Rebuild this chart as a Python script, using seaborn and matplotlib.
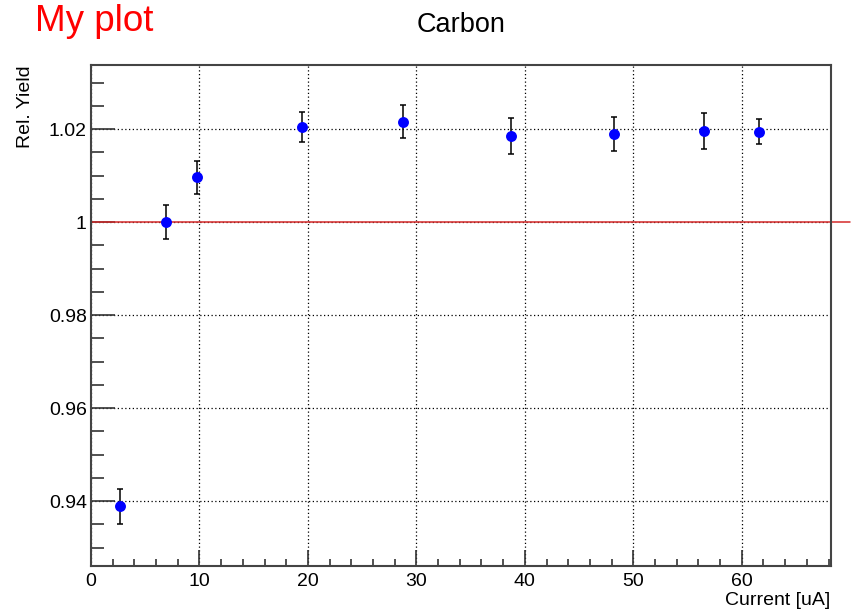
import numpy as np
import pandas as pd
import matplotlib
matplotlib.use("Agg")
import matplotlib.pyplot as plt
import seaborn as sns
from matplotlib.ticker import MultipleLocator

# beam current [uA], relative yield and its error
current = [2.7, 6.9, 9.8, 19.5, 28.8, 38.7, 48.2, 56.5, 61.6]
rel_yield = [0.9389, 1.0000, 1.0096, 1.0205, 1.0216, 1.0185, 1.0190, 1.0196, 1.0194]
yield_err = [0.0038, 0.0037, 0.0036, 0.0032, 0.0036, 0.0038, 0.0037, 0.0039, 0.0027]

ref_line_x = [0, 70]
ref_line_y = [1, 1]

df = pd.DataFrame({"current": current, "rel_yield": rel_yield, "err": yield_err})

sns.set_style("white")
plt.rcParams['font.family'] = ['Liberation Sans', 'DejaVu Sans']
plt.rcParams['text.color'] = 'black'
plt.rcParams['axes.labelcolor'] = 'black'

fig = plt.figure(figsize=(8.52, 6.13), dpi=100)
ax = fig.add_axes([0.1068, 0.0772, 0.975 - 0.1068, 0.894 - 0.0772])

# error bars first, then markers on top
ax.errorbar(df.current, df.rel_yield, yerr=df.err, fmt="none", ecolor="black",
            elinewidth=1.1, capsize=2.4, capthick=1.1, zorder=3)
sns.scatterplot(x="current", y="rel_yield", data=df, color="#0000ff", s=62,
                edgecolor="#0000ff", linewidth=0, ax=ax, zorder=4)

# reference line at 1 (runs past the frame like the TLine in ROOT)
ax.plot(ref_line_x, ref_line_y, color="#d42a2a", lw=1.1, clip_on=False, zorder=2)

ax.set_xlim(0, 68.2)
ax.set_ylim(0.9261, 1.0338)

ax.xaxis.set_major_locator(MultipleLocator(10))
ax.xaxis.set_minor_locator(MultipleLocator(2))
ax.yaxis.set_minor_locator(MultipleLocator(0.005))
ax.set_yticks([0.94, 0.96, 0.98, 1.0, 1.02])
ax.set_yticklabels(["0.94", "0.96", "0.98", "1", "1.02"])

ax.tick_params(axis="both", which="both", direction="in", bottom=True, left=True,
               top=False, right=False, colors="#333333", labelcolor="black",
               labelsize=14, width=1.2)
ax.tick_params(axis="x", which="major", length=11.3, pad=5)
ax.tick_params(axis="x", which="minor", length=5)
ax.tick_params(axis="y", which="major", length=17, pad=3)
ax.tick_params(axis="y", which="minor", length=9.4)

ax.grid(True, which="major", color="black", linestyle=(0, (1, 2)), linewidth=0.9)
for s in ax.spines.values():
    s.set_color("#444444")
    s.set_linewidth(1.5)

ax.set_xlabel("Current [uA]", fontsize=14, loc="right", labelpad=2)
ax.set_ylabel("Rel. Yield", fontsize=14, loc="top", labelpad=11)

fig.text(0.541, 0.960, "Carbon", fontsize=19.5, ha="center", va="center")
fig.text(0.041, 0.95, "My plot", fontsize=26.5, color="red", ha="left", va="baseline")

fig.savefig("out.png", dpi=100)
